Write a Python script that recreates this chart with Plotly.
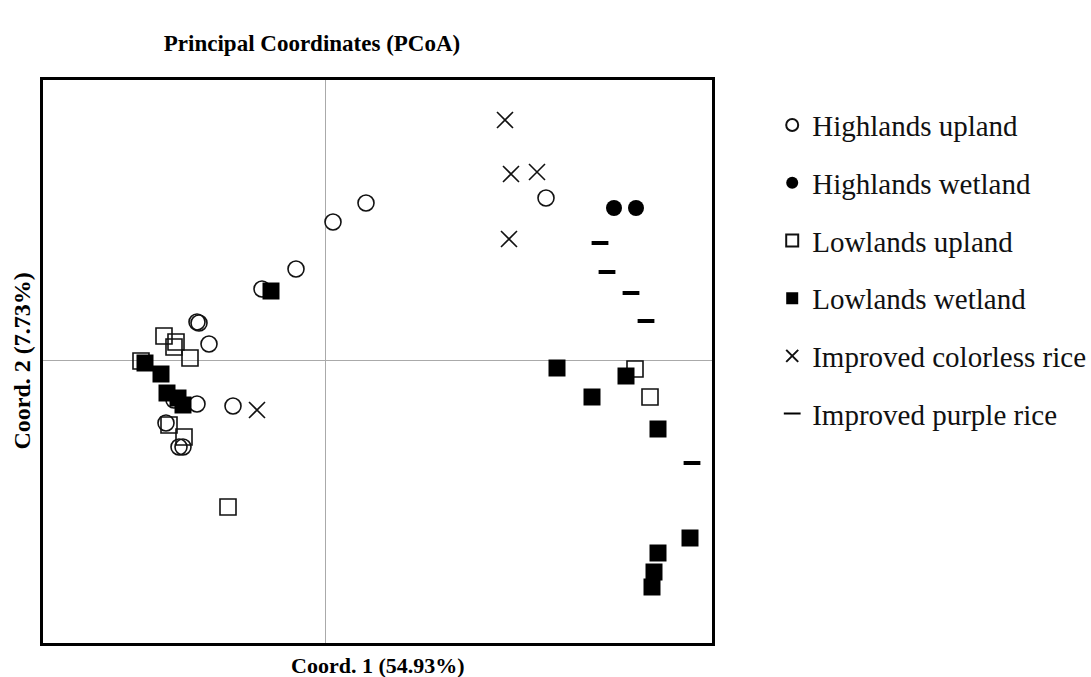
import plotly.graph_objects as go

# PCoA coordinates (arbitrary units)
hu_x = [0.41, 0.08, -0.29, -0.63, -1.28, -1.26, -1.16, -1.28, -0.92, -1.51, -1.59, -1.46, -1.42, 2.21]
hu_y = [1.57, 1.38, 0.91, 0.71, 0.38, 0.37, 0.16, -0.44, -0.46, -0.40, -0.63, -0.87, -0.87, 1.62]

hw_x = [2.89, 3.11]
hw_y = [1.52, 1.52]

lu_x = [-1.61, -1.49, -1.51, -1.35, -1.84, -1.56, -1.41, -0.97, 3.10, 3.25]
lu_y = [0.24, 0.18, 0.13, 0.02, -0.01, -0.65, -0.77, -1.47, -0.09, -0.37]

lw_x = [-0.54, -1.80, -1.64, -1.58, -1.47, -1.42, 2.32, 3.01, 2.67, 3.33, 3.65, 3.33, 3.29, 3.27]
lw_y = [0.69, -0.03, -0.14, -0.33, -0.38, -0.45, -0.08, -0.16, -0.37, -0.69, -1.78, -1.93, -2.12, -2.27]

ic_x = [1.80, 1.86, 2.12, 1.84, -0.68]
ic_y = [2.40, 1.86, 1.88, 1.21, -0.50]

ip_x = [2.75, 2.82, 3.06, 3.21, 3.67]
ip_y = [1.17, 0.88, 0.67, 0.39, -1.03]

names = ["Highlands upland", "Highlands wetland", "Lowlands upland",
         "Lowlands wetland", "Improved colorless rice", "Improved purple rice"]

FONT = "Liberation Serif"

fig = go.Figure()
specs = [
    (hu_x, hu_y, dict(symbol="circle-open", size=16, color="#111", line=dict(width=1.6, color="#111"))),
    (hw_x, hw_y, dict(symbol="circle", size=16, color="#000", line=dict(width=0))),
    (lu_x, lu_y, dict(symbol="square-open", size=16, color="#111", line=dict(width=1.6, color="#111"))),
    (lw_x, lw_y, dict(symbol="square", size=17, color="#000", line=dict(width=0))),
    (ic_x, ic_y, dict(symbol="x-thin-open", size=16, color="#111", line=dict(width=1.6, color="#111"))),
    (ip_x, ip_y, dict(symbol="line-ew-open", size=12, color="#000", line=dict(width=4, color="#000"))),
]
for i, (xs, ys, mk) in enumerate(specs):
    fig.add_trace(go.Scatter(x=xs, y=ys, mode="markers", name=names[i],
                             marker=mk, legendgroup=f"g{i}", hoverinfo="x+y+name"))

fig.update_layout(
    width=1091, height=677,
    margin=dict(l=43, r=379, t=80, b=34, autoexpand=False),
    paper_bgcolor="white", plot_bgcolor="white",
    font=dict(family=FONT, color="#000"),
    title=dict(text="<b>Principal Coordinates (PCoA)</b>", x=0.286, xanchor="center",
               y=1 - 43 / 677, yanchor="middle", font=dict(size=23, family=FONT, color="#000")),
    showlegend=True,
    legend=dict(x=1.09, xanchor="left", y=0.965, yanchor="top",
                font=dict(size=29, family=FONT, color="#111"),
                traceorder="grouped", tracegroupgap=17, itemsizing="constant",
                bgcolor="rgba(0,0,0,0)"),
    xaxis=dict(range=[-2.82, 3.87], showgrid=False, showticklabels=False, ticks="",
               zeroline=True, zerolinecolor="#aaaaaa", zerolinewidth=1,
               showline=True, mirror=True, linecolor="#000", linewidth=3),
    yaxis=dict(range=[-2.83, 2.80], showgrid=False, showticklabels=False, ticks="",
               zeroline=True, zerolinecolor="#aaaaaa", zerolinewidth=1,
               showline=True, mirror=True, linecolor="#000", linewidth=3),
    annotations=[
        dict(text="<b>Coord. 1 (54.93%)</b>", xref="paper", yref="paper", x=0.5, y=0,
             xanchor="center", yanchor="top", yshift=-8, showarrow=False,
             font=dict(size=22, family=FONT, color="#000")),
        dict(text="<b>Coord. 2 (7.73%)</b>", xref="paper", yref="paper", x=0, y=0.5,
             xanchor="center", yanchor="middle", xshift=-22, textangle=-90, showarrow=False,
             font=dict(size=24, family=FONT, color="#000")),
    ],
)

fig.write_html("out.html", config={"displayModeBar": False},
               post_script="document.body.style.margin='0';document.body.style.overflow='hidden';")
